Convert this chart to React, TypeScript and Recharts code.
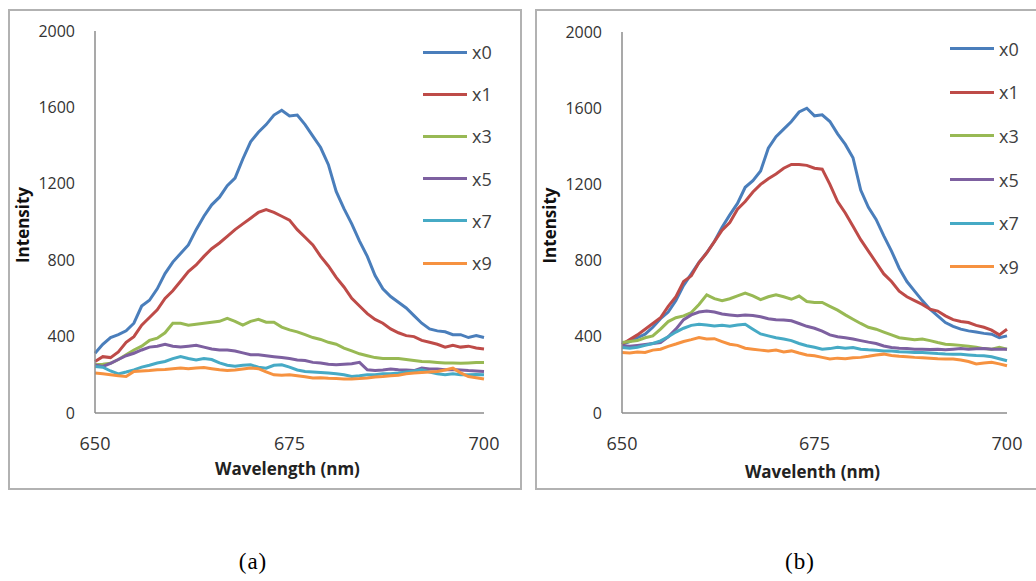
import React from "react";
import { LineChart, Line, XAxis, YAxis, Legend, Label } from "recharts";

const WAVELENGTHS = [
  650, 651, 652, 653, 654, 655, 656, 657, 658, 659, 660, 661, 662, 663, 664, 665, 666,
  667, 668, 669, 670, 671, 672, 673, 674, 675, 676, 677, 678, 679, 680, 681, 682, 683,
  684, 685, 686, 687, 688, 689, 690, 691, 692, 693, 694, 695, 696, 697, 698, 699, 700,
];
const X_TICKS = [650, 675, 700];
const Y_TICKS = [0, 400, 800, 1200, 1600, 2000];
const SERIES_NAMES = ["x0", "x1", "x3", "x5", "x7", "x9"];
const SERIES_COLORS = ["#4a7ebb", "#be4b48", "#98b954", "#7d60a0", "#46aac5", "#f69240"];

// panel (a)
const A_X0 = [
  313, 360, 395, 410, 430, 470, 560, 590, 650, 730, 790, 835, 880, 960, 1030, 1090, 1130,
  1190, 1230, 1330, 1420, 1470, 1510, 1560, 1585, 1555, 1560, 1510, 1450, 1390, 1300, 1160,
  1070, 990, 900, 820, 720, 650, 610, 580, 550, 510, 470, 440, 430, 425, 410, 410, 395, 405, 395,
];
const A_X1 = [
  270, 295, 290, 320, 370, 400, 460, 500, 540, 600, 640, 690, 740, 775, 820, 860, 890,
  925, 960, 990, 1020, 1050, 1065, 1050, 1030, 1010, 960, 920, 880, 820, 770, 710,
  660, 600, 560, 520, 490, 470, 440, 420, 405, 400, 380, 370, 360, 345, 355, 345, 350, 340, 335,
];
const A_X3 = [
  252, 255, 260, 280, 305, 330, 350, 380, 392, 420, 470, 470, 460, 465, 470, 475, 480,
  495, 480, 460, 480, 490, 475, 475, 450, 435, 425, 410, 395, 385, 370, 360,
  340, 325, 310, 300, 290, 285, 285, 285, 280, 275, 270, 268, 265, 262, 262, 260, 262, 264, 264,
];
const A_X5 = [
  252, 244, 260, 280, 300, 313, 330, 345, 350, 360, 350, 345, 350, 355, 345, 335, 330,
  330, 325, 315, 305, 305, 300, 295, 290, 285, 278, 275, 265, 262, 255, 252,
  255, 258, 265, 226, 222, 225, 230, 226, 225, 222, 235, 230, 230, 226, 228, 225, 222, 220, 217,
];
const A_X7 = [
  244, 240, 220, 205, 215, 226, 240, 250, 262, 270, 285, 296, 285, 278, 285, 280, 262,
  250, 245, 250, 252, 240, 235, 250, 252, 240, 225, 217, 215, 212, 209, 205,
  200, 191, 195, 200, 200, 205, 205, 209, 215, 220, 226, 215, 205, 200, 205, 200, 200, 202, 200,
];
const A_X9 = [
  209, 205, 200, 195, 191, 217, 220, 222, 226, 228, 232, 235, 232, 235, 238, 232, 226,
  222, 225, 230, 235, 232, 215, 200, 198, 200, 195, 190, 183, 185, 182, 180,
  178, 178, 180, 183, 188, 191, 195, 198, 205, 209, 212, 215, 217, 225, 235, 210, 191, 185, 178,
];

// panel (b)
const B_X0 = [
  361, 375, 395, 414, 450, 495, 530, 590, 670, 730, 790, 841, 900, 975, 1040, 1100, 1185,
  1220, 1270, 1390, 1450, 1490, 1530, 1580, 1600, 1560, 1565, 1530, 1465, 1410, 1340, 1170,
  1080, 1016, 930, 850, 760, 690, 640, 590, 545, 510, 475, 455, 440, 431, 425, 418, 414, 395, 405,
];
const B_X1 = [
  361, 385, 410, 440, 470, 500, 560, 610, 690, 720, 790, 840, 900, 960, 1000, 1070, 1110,
  1160, 1200, 1230, 1255, 1285, 1305, 1305, 1300, 1285, 1280, 1200, 1110, 1050, 980, 910,
  850, 790, 730, 690, 640, 610, 590, 570, 545, 535, 510, 490, 480, 475, 460, 450, 435, 410, 440,
];
const B_X3 = [
  370, 375, 380, 395, 405, 440, 480, 500, 510, 527, 570, 620, 600, 590, 600, 615, 630,
  615, 595, 610, 620, 610, 597, 614, 585, 580, 580, 560, 540, 515, 492, 470,
  450, 440, 425, 410, 395, 390, 385, 388, 380, 370, 361, 358, 355, 350, 345, 338, 335, 345, 335,
];
const B_X5 = [
  353, 350, 355, 360, 365, 370, 400, 440, 490, 515, 530, 536, 530, 520, 515, 510, 515,
  512, 505, 495, 490, 488, 484, 470, 455, 445, 430, 410, 400, 395, 388, 380,
  372, 365, 352, 344, 340, 338, 335, 335, 333, 335, 332, 335, 338, 335, 337, 339, 335, 335, 335,
];
const B_X7 = [
  344, 340, 345, 355, 365, 379, 400, 425, 445, 460, 466, 462, 457, 460, 455, 462, 466,
  440, 415, 405, 395, 388, 380, 365, 353, 345, 335, 338, 345, 340, 344, 335,
  332, 330, 326, 325, 322, 320, 318, 318, 315, 312, 310, 309, 308, 305, 302, 300, 295, 285, 274,
];
const B_X9 = [
  318, 315, 320, 318, 330, 335, 350, 362, 375, 385, 396, 388, 390, 375, 361, 355, 340,
  335, 330, 325, 330, 320, 326, 315, 305, 300, 292, 283, 288, 285, 290, 292,
  298, 305, 309, 302, 298, 295, 292, 290, 288, 285, 283, 283, 278, 270, 257, 262, 266, 258, 248,
];

function buildRows(series: number[][]) {
  return WAVELENGTHS.map((w, i) => {
    const row: Record<string, number> = { wavelength: w };
    SERIES_NAMES.forEach((name, k) => {
      row[name] = series[k][i];
    });
    return row;
  });
}

const dataA = buildRows([A_X0, A_X1, A_X3, A_X5, A_X7, A_X9]);
const dataB = buildRows([B_X0, B_X1, B_X3, B_X5, B_X7, B_X9]);

const FONT = '"Open Sans", sans-serif';
const AXIS_COLOR = "#8c8c8c";

interface PanelProps {
  data: Record<string, number>[];
  left: number;
  plotTop: number;
  plotRight: number;
  xLabel: string;
  xLabelDy: number;
  legendTop: number;
  legendGap: number;
}

function Panel({ data, left, plotTop, plotRight, xLabel, xLabelDy, legendTop, legendGap }: PanelProps) {
  const renderLegend = () => (
    <div style={{ fontFamily: FONT }}>
      {SERIES_NAMES.map((name, i) => (
        <div key={name} style={{ display: "flex", alignItems: "center", height: legendGap }}>
          <span style={{ display: "inline-block", width: 44, height: 3, background: SERIES_COLORS[i] }} />
          <span style={{ marginLeft: 5, fontSize: 18, color: "#404040", lineHeight: 1 }}>{name}</span>
        </div>
      ))}
    </div>
  );

  return (
    <>
      <div
        style={{
          position: "absolute",
          left,
          top: 9,
          width: 514,
          height: 481,
          border: "2px solid #b2b2b2",
          boxSizing: "border-box",
        }}
      />
      <div style={{ position: "absolute", left, top: 10 }}>
        <LineChart
          width={514}
          height={479}
          data={data}
          margin={{ top: plotTop, right: plotRight, bottom: 0, left: 0 }}
        >
          <XAxis
            dataKey="wavelength"
            type="number"
            domain={[650, 700]}
            ticks={X_TICKS}
            height={76}
            tickLine={false}
            tickSize={0}
            tickMargin={24}
            axisLine={{ stroke: AXIS_COLOR, strokeWidth: 1.5 }}
            tick={{ fontSize: 18, fill: "#333", fontFamily: FONT }}
          >
            <Label
              content={(props: any) => {
                const vb = props.viewBox;
                return (
                  <text
                    x={vb.x + vb.width / 2 - 2}
                    y={vb.y + xLabelDy}
                    textAnchor="middle"
                    dominantBaseline="central"
                    fontFamily={FONT}
                    fontWeight="bold"
                    fontSize={17}
                    fill="#222"
                  >
                    {xLabel}
                  </text>
                );
              }}
            />
          </XAxis>
          <YAxis
            type="number"
            domain={[0, 2000]}
            ticks={Y_TICKS}
            width={87}
            tickLine={false}
            tickSize={0}
            tickMargin={20}
            axisLine={{ stroke: AXIS_COLOR, strokeWidth: 1.5 }}
            tick={{ fontSize: 16, fill: "#333", fontFamily: FONT }}
          >
            <Label
              content={(props: any) => {
                const vb = props.viewBox;
                const cx = vb.x + 14;
                const cy = vb.y + vb.height / 2 + 3;
                return (
                  <text
                    x={cx}
                    y={cy}
                    transform={`rotate(-90 ${cx} ${cy})`}
                    textAnchor="middle"
                    dominantBaseline="central"
                    fontFamily={FONT}
                    fontWeight="bold"
                    fontSize={17}
                    fill="#111"
                  >
                    Intensity
                  </text>
                );
              }}
            />
          </YAxis>
          <Legend
            layout="vertical"
            align="center"
            verticalAlign="middle"
            content={renderLegend}
            wrapperStyle={{ left: 415, top: legendTop, width: 100, height: legendGap * 6 }}
          />
          {SERIES_NAMES.map((name, i) => (
            <Line
              key={name}
              type="linear"
              dataKey={name}
              name={name}
              stroke={SERIES_COLORS[i]}
              strokeWidth={3}
              dot={false}
              activeDot={false}
              isAnimationActive={false}
            />
          ))}
        </LineChart>
      </div>
    </>
  );
}

const captionStyle: React.CSSProperties = {
  position: "absolute",
  top: 548,
  width: 60,
  textAlign: "center",
  fontFamily: '"Liberation Serif", "Times New Roman", serif',
  fontSize: 23,
  letterSpacing: 1,
  color: "#000",
  lineHeight: "28px",
};

export default function App() {
  return (
    <div
      style={{
        position: "absolute",
        left: 0,
        top: 0,
        width: 1036,
        height: 581,
        background: "#fff",
        overflow: "hidden",
      }}
    >
      <Panel
        data={dataA}
        left={8}
        plotTop={21}
        plotRight={38}
        xLabel="Wavelength (nm)"
        xLabelDy={55}
        legendTop={21}
        legendGap={42.2}
      />
      <Panel
        data={dataB}
        left={535}
        plotTop={22}
        plotRight={42}
        xLabel="Wavelenth (nm)"
        xLabelDy={58}
        legendTop={17}
        legendGap={43.6}
      />
      <div style={{ ...captionStyle, left: 223 }}>(a)</div>
      <div style={{ ...captionStyle, left: 770 }}>(b)</div>
    </div>
  );
}
